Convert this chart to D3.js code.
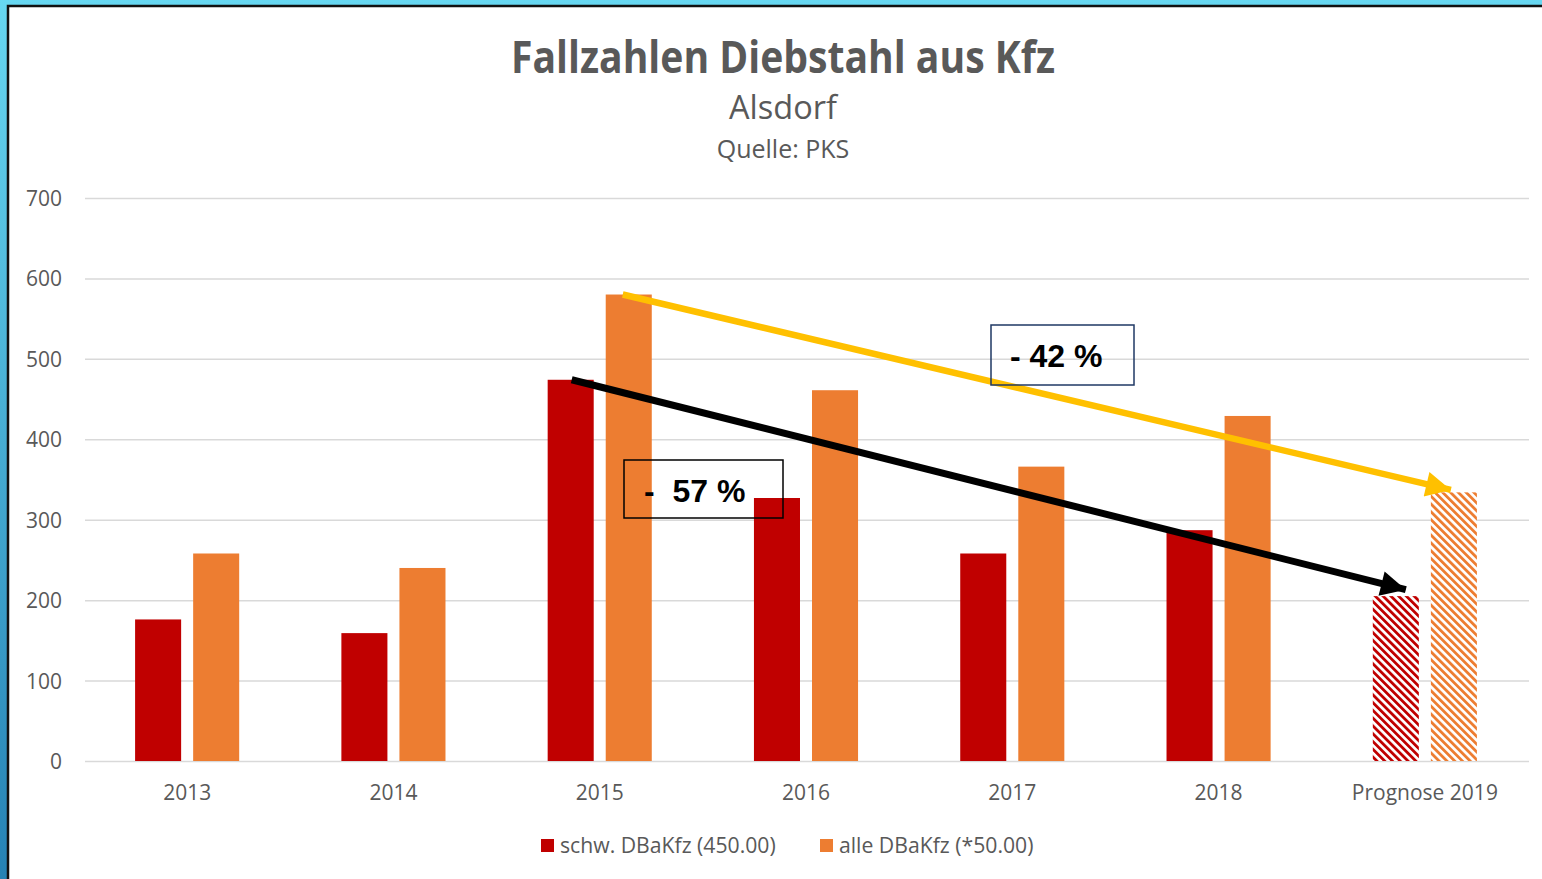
<!DOCTYPE html>
<meta charset="utf-8">
<style type="text/css">
body {
  margin: 0;
  overflow: hidden;
  font-family: "Open Sans", sans-serif;
}

.grid line {
  stroke: #d9d9d9;
  stroke-width: 1.5px;
}

.grid path {
  display: none;
}

.axis text {
  font-family: "Open Sans", sans-serif;
  font-size: 21px;
  fill: #595959;
}

.axis path,
.axis line {
  display: none;
}

.note {
  font-family: "Liberation Sans", Arial, sans-serif;
  font-weight: bold;
  font-size: 32px;
  fill: #000;
}
</style>
<body>
<script src="https://cdn.jsdelivr.net/npm/d3@7"></script>
<script>
var categories = ["2013", "2014", "2015", "2016", "2017", "2018", "Prognose 2019"];
var seriesNames = ["schw. DBaKfz (450.00)", "alle DBaKfz (*50.00)"];
var schwValues = [176, 159, 474, 327, 258, 287, 205];
var alleValues = [258, 240, 580, 461, 366, 429, 334];
var yTicks = [0, 100, 200, 300, 400, 500, 600, 700];
var colors = ["#c00000", "#ed7d31"];
var forecast = "Prognose 2019";

// trend arrows: [category, series, value] -> [category, series, value]
var trendAlle = { from: ["2015", 1, 580], to: [forecast, 1, 337], label: "- 42 %" };
var trendSchw = { from: ["2015", 0, 474], to: [forecast, 0, 213], label: "-  57 %" };

var W = 1542, H = 879;

var svg = d3.select("body")
  .append("svg")
    .attr("width", W)
    .attr("height", H);

var defs = svg.append("defs");

var bg = defs.append("linearGradient")
  .attr("id", "frame")
  .attr("x1", 0).attr("y1", 0)
  .attr("x2", 0).attr("y2", 1);
bg.append("stop").attr("offset", "0%").attr("stop-color", "#67d7f1");
bg.append("stop").attr("offset", "100%").attr("stop-color", "#2682b4");

function hatch(id, color) {
  var p = defs.append("pattern")
    .attr("id", id)
    .attr("patternUnits", "userSpaceOnUse")
    .attr("width", 5.5)
    .attr("height", 5.5)
    .attr("patternTransform", "rotate(-45)");
  p.append("rect")
    .attr("width", 5.5)
    .attr("height", 5.5)
    .attr("fill", "#fff");
  p.append("rect")
    .attr("width", 2.8)
    .attr("height", 5.5)
    .attr("fill", color);
}
hatch("hatch0", colors[0]);
hatch("hatch1", colors[1]);

function arrowHead(id, color) {
  defs.append("marker")
    .attr("id", id)
    .attr("markerUnits", "userSpaceOnUse")
    .attr("viewBox", "0 0 10 10")
    .attr("refX", 10)
    .attr("refY", 5)
    .attr("markerWidth", 27)
    .attr("markerHeight", 25)
    .attr("orient", "auto")
  .append("path")
    .attr("d", "M0,0L10,5L0,10z")
    .attr("fill", color);
}
arrowHead("headYellow", "#ffc000");
arrowHead("headBlack", "#000");

svg.append("rect")
  .attr("width", W)
  .attr("height", H)
  .attr("fill", "url(#frame)");

svg.append("rect")
  .attr("x", 8)
  .attr("y", 6)
  .attr("width", W)
  .attr("height", H)
  .attr("fill", "#fff")
  .attr("stroke", "#111")
  .attr("stroke-width", 2.5);

/* Titles */

svg.append("text")
  .attr("x", 783)
  .attr("y", 73)
  .attr("text-anchor", "middle")
  .style("font-size", "44px")
  .style("font-weight", "bold")
  .style("fill", "#595959")
  .attr("textLength", 544)
  .attr("lengthAdjust", "spacingAndGlyphs")
  .text("Fallzahlen Diebstahl aus Kfz");

svg.append("text")
  .attr("x", 783)
  .attr("y", 119)
  .attr("text-anchor", "middle")
  .style("font-size", "32.5px")
  .style("fill", "#595959")
  .text("Alsdorf");

svg.append("text")
  .attr("x", 783)
  .attr("y", 158)
  .attr("text-anchor", "middle")
  .style("font-size", "25px")
  .style("fill", "#595959")
  .text("Quelle: PKS");

/* Scales */

var x0 = d3.scaleBand()
  .domain(categories)
  .range([84, 1528]);

var x1 = d3.scaleBand()
  .domain([0, 1])
  .range([0, x0.bandwidth()])
  .paddingInner(0.207)
  .paddingOuter(0.88);

var y = d3.scaleLinear()
  .domain([0, 700])
  .range([761, 198]);

svg.append("g")
  .attr("class", "grid")
  .attr("transform", "translate(85,0)")
  .call(d3.axisLeft(y).tickValues(yTicks).tickSize(-1444).tickFormat(""));

svg.append("g")
  .attr("class", "axis")
  .attr("transform", "translate(85,0)")
  .call(d3.axisLeft(y).tickValues(yTicks).tickSize(0).tickPadding(23))
  .selectAll("text")
    .attr("dy", "0.36em");

svg.append("g")
  .attr("class", "axis")
  .attr("transform", "translate(0,761)")
  .call(d3.axisBottom(x0).tickSize(0).tickPadding(24));

/* Bars */

var rows = categories.map(function(c, i) {
  return { cat: c, values: [schwValues[i], alleValues[i]] };
});

var group = svg.selectAll("g.cat")
  .data(rows)
  .enter().append("g")
    .attr("class", "cat")
    .attr("transform", function(d) { return "translate(" + x0(d.cat) + ",0)"; });

group.selectAll("rect")
  .data(function(d) {
    return d.values.map(function(v, s) { return { cat: d.cat, s: s, v: v }; });
  })
  .enter().append("rect")
    .attr("x", function(d) { return x1(d.s); })
    .attr("y", function(d) { return y(d.v); })
    .attr("width", x1.bandwidth())
    .attr("height", function(d) { return y(0) - y(d.v); })
    .attr("fill", function(d) {
      return d.cat == forecast ? "url(#hatch" + d.s + ")" : colors[d.s];
    });

/* Trend arrows */

function px(p, dx) { return x0(p[0]) + x1(p[1]) + x1.bandwidth() / 2 + dx; }

svg.append("line")
  .attr("x1", px(trendAlle.from, -6))
  .attr("y1", y(trendAlle.from[2]))
  .attr("x2", px(trendAlle.to, -3))
  .attr("y2", y(trendAlle.to[2]))
  .attr("stroke", "#ffc000")
  .attr("stroke-width", 6.5)
  .attr("marker-end", "url(#headYellow)");

svg.append("line")
  .attr("x1", px(trendSchw.from, 1))
  .attr("y1", y(trendSchw.from[2]))
  .attr("x2", px(trendSchw.to, 10))
  .attr("y2", y(trendSchw.to[2]))
  .attr("stroke", "#000")
  .attr("stroke-width", 7)
  .attr("marker-end", "url(#headBlack)");

/* Notes */

svg.append("rect")
  .attr("x", 991)
  .attr("y", 325)
  .attr("width", 143)
  .attr("height", 60)
  .attr("fill", "none")
  .attr("stroke", "#1f3864")
  .attr("stroke-width", 1.5);

svg.append("text")
  .attr("class", "note")
  .attr("x", 1010)
  .attr("y", 367)
  .style("white-space", "pre")
  .text(trendAlle.label);

svg.append("rect")
  .attr("x", 624)
  .attr("y", 460)
  .attr("width", 159)
  .attr("height", 58)
  .attr("fill", "none")
  .attr("stroke", "#000")
  .attr("stroke-width", 1.5);

svg.append("text")
  .attr("class", "note")
  .attr("x", 644)
  .attr("y", 502)
  .style("white-space", "pre")
  .text(trendSchw.label);

/* Legend */

var legendX = [541, 820];

var legend = svg.selectAll("g.legend")
  .data(seriesNames)
  .enter().append("g")
    .attr("class", "legend")
    .attr("transform", function(d, i) { return "translate(" + legendX[i] + ",839)"; });

legend.append("rect")
  .attr("width", 13)
  .attr("height", 13)
  .attr("fill", function(d, i) { return colors[i]; });

legend.append("text")
  .attr("x", 19)
  .attr("y", 14)
  .style("font-size", "21.2px")
  .style("fill", "#595959")
  .text(function(d) { return d; });
</script>
</body>
